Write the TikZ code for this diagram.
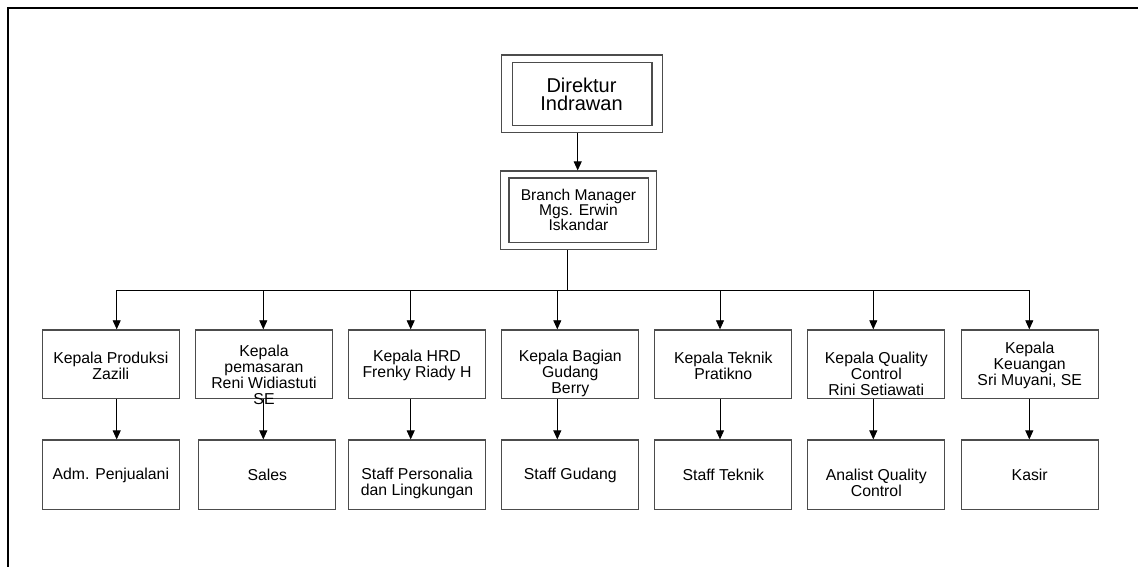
\documentclass[tikz,border=0pt]{standalone}
\usepackage{fontspec}
\setmainfont{Liberation Sans}
\usetikzlibrary{arrows.meta,calc}
\begin{document}
\begin{tikzpicture}[x=1pt,y=-1pt,
  boxline/.style={draw=black!70, line width=1.3pt, inner sep=0pt},
  lvbox/.style={boxline, minimum width=137pt, minimum height=68.5pt},
  lvtxt/.style={align=center, inner sep=0pt, font=\fontsize{15.8}{16}\selectfont},
  conn/.style={draw=black, line width=0.8pt},
  arr/.style={conn, -{Triangle[length=9pt,width=8pt]}}]
\useasboundingbox (0,0) rectangle (1138,567);
% open frame
\draw[line width=2pt] (1138,8) -- (8,8) -- (8,567);
% top
\node[boxline, minimum width=161pt, minimum height=77.7pt] (dirO) at (582.2,93.9) {};
\node[boxline, minimum width=139.7pt, minimum height=63.3pt] (dirI) at (dirO.center) {};
\node[align=center, inner sep=0pt, font=\fontsize{20}{18.5}\selectfont] (dirT) at (581.5,94.5) {Direktur\\Indrawan};
\node[boxline, minimum width=156pt, minimum height=78.3pt] (bmO) at (578.7,210.2) {};
\node[boxline, minimum width=139.3pt, minimum height=64.6pt] (bmI) at (bmO.center) {};
\node[align=center, inner sep=0pt, font=\fontsize{15.6}{15.3}\selectfont] (bmT) at (578.5,210) {Branch Manager\\Mgs. Erwin\\Iskandar};
\coordinate (dbx) at (577.7,0);
\draw[arr] (dirO.south -| dbx) -- (bmO.north -| dbx);
% bus
\coordinate (bus) at (567.3,290);
\coordinate (c1) at (116.7,290);
\coordinate (c2) at (263.3,290);
\coordinate (c3) at (410.7,290);
\coordinate (c4) at (557.3,290);
\coordinate (c5) at (720,290);
\coordinate (c6) at (873.3,290);
\coordinate (c7) at (1029.3,290);
\draw[conn] (bmO.south -| bus) -- (bus);
\draw[conn] (c1) -- (c7);
% level 2 boxes
\node[lvbox] (a1) at (110.8,364.2) {};
\node[lvbox] (a2) at (264,364.2) {};
\node[lvbox] (a3) at (417,364.2) {};
\node[lvbox] (a4) at (570.3,364.2) {};
\node[lvbox] (a5) at (723.3,364.2) {};
\node[lvbox] (a6) at (876.3,364.2) {};
\node[lvbox] (a7) at (1029.7,364.2) {};
\node[lvtxt] (t1) at (110.8,365.5) {Kepala Produksi\\Zazili};
\node[lvtxt] (t2) at (264,374.5) {Kepala\\pemasaran\\Reni Widiastuti\\SE};
\node[lvtxt] (t3) at (417,365.5) {Kepala HRD\\Frenky Riady H};
\node[lvtxt] (t4) at (570.3,373.5) {Kepala Bagian\\Gudang\\Berry};
\node[lvtxt] (t5) at (723.3,365.5) {Kepala Teknik\\Pratikno};
\node[lvtxt] (t6) at (876.3,373.5) {Kepala Quality\\Control\\Rini Setiawati};
\node[lvtxt] (t7) at (1029.7,365.5) {Kepala\\Keuangan\\Sri Muyani, SE};
% level 3 boxes
\node[lvbox, minimum height=69.3pt] (s1) at (110.8,474.7) {};
\node[lvbox, minimum height=69.3pt] (s2) at (267.3,474.7) {};
\node[lvbox, minimum height=69.3pt] (s3) at (417,474.7) {};
\node[lvbox, minimum height=69.3pt] (s4) at (570.3,474.7) {};
\node[lvbox, minimum height=69.3pt] (s5) at (723.3,474.7) {};
\node[lvbox, minimum height=69.3pt] (s6) at (876.3,474.7) {};
\node[lvbox, minimum height=69.3pt] (s7) at (1029.7,474.7) {};
\node[lvtxt] (u1) at (110.8,475) {Adm. Penjualani};
\node[lvtxt] (u2) at (267.3,475) {Sales};
\node[lvtxt] (u3) at (417,483) {Staff Personalia\\dan Lingkungan};
\node[lvtxt] (u4) at (570.3,475) {Staff Gudang};
\node[lvtxt] (u5) at (723.3,475) {Staff Teknik};
\node[lvtxt] (u6) at (876.3,483) {Analist Quality\\Control};
\node[lvtxt] (u7) at (1029.7,475) {Kasir};
% arrows
\foreach \i in {1,...,7}{
  \draw[arr] (c\i) -- (c\i |- a\i.north);
  \draw[arr] (a\i.south -| c\i) -- (s\i.north -| c\i);
}
\end{tikzpicture}
\end{document}
